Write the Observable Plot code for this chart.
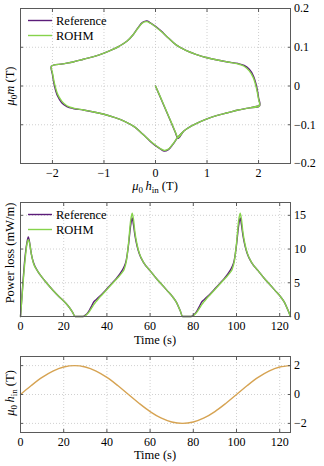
<!DOCTYPE html>
<html><head><meta charset="utf-8">
<script src="https://cdn.jsdelivr.net/npm/d3@7"></script>
<script src="https://cdn.jsdelivr.net/npm/@observablehq/plot@0.6"></script>
<style>
body{margin:0;background:#fff;}
#chart{width:324px;}
#chart svg{display:block;}
</style></head><body><div id="chart"></div>
<script>
// ---------- Panel 1: hysteresis loop (mu0 h_in, mu0 m) ----------
const initH = [0, 0.1, 0.2, 0.3, 0.38, 0.44];
const refInitM = [0, -0.031, -0.062, -0.093, -0.118, -0.135];
const rohmInitM = [0, -0.030, -0.061, -0.092, -0.117, -0.133];
const lowerH = [-2.02,-2.0,-1.96,-1.9,-1.82,-1.72,-1.6,-1.4,-1.2,-1.0,-0.8,-0.6,-0.4,-0.25,-0.1,0.0,0.1,0.17,0.25,0.33,0.43,0.55,0.7,0.85,1.0,1.2,1.4,1.6,1.8,2.02];
const refLowerM = [0.051,0.03,0.0,-0.026,-0.043,-0.053,-0.058,-0.062,-0.067,-0.073,-0.081,-0.091,-0.106,-0.124,-0.143,-0.154,-0.163,-0.168,-0.164,-0.152,-0.133,-0.116,-0.103,-0.093,-0.085,-0.076,-0.069,-0.062,-0.057,-0.051];
const rohmLowerM = [0.051,0.034,0.006,-0.021,-0.039,-0.051,-0.057,-0.062,-0.067,-0.073,-0.081,-0.091,-0.106,-0.124,-0.142,-0.153,-0.162,-0.166,-0.163,-0.151,-0.133,-0.116,-0.103,-0.093,-0.085,-0.076,-0.069,-0.062,-0.057,-0.051];
const upperH = [2.02,2.0,1.96,1.9,1.82,1.72,1.6,1.4,1.2,1.0,0.8,0.6,0.4,0.25,0.1,0.0,-0.1,-0.17,-0.25,-0.33,-0.43,-0.55,-0.7,-0.85,-1.0,-1.2,-1.4,-1.6,-1.8,-2.02];
const refUpperM = [-0.051,-0.03,0.0,0.026,0.043,0.053,0.058,0.062,0.067,0.073,0.081,0.091,0.106,0.124,0.143,0.154,0.163,0.168,0.164,0.152,0.133,0.116,0.103,0.093,0.085,0.076,0.069,0.062,0.057,0.051];
const rohmUpperM = [-0.051,-0.034,-0.006,0.021,0.039,0.051,0.057,0.062,0.067,0.073,0.081,0.091,0.106,0.124,0.142,0.153,0.162,0.166,0.163,0.151,0.133,0.116,0.103,0.093,0.085,0.076,0.069,0.062,0.057,0.051];
const loopXTicks = [-2, -1, 0, 1, 2];
const loopYTicks = [-0.2, -0.1, 0, 0.1, 0.2];

// ---------- Panel 2: power loss ----------
const tPower = [0,1,2,3,3.6,4.2,5,6,8,10,12,15,18,20,22,24,25.3,29,30,31,32,33,34,35,36,38,40,42,44,46,47,48,49,50,51,51.7,52.3,53,54,55,57,60,63,65,68,70,72,74,75,79,80,81,82,83,84,85,86,88,90,92,94,96,97,98,99,100,101,101.7,102.3,103,104,105,107,110,113,115,118,120,122,124,125];
const pRef = [0,4.5,8.5,11.0,11.8,11.0,9.3,8.0,6.7,5.8,5.0,3.9,2.9,2.3,1.6,0.7,0,0,0.2,0.5,1.0,1.6,2.2,2.5,2.8,3.4,4.1,4.8,5.5,6.3,6.8,7.4,8.4,10.6,13.5,14.6,13.6,12.0,10.4,9.3,8.0,6.8,5.6,4.9,3.8,3.1,2.2,0.8,0,0,0.2,0.5,1.0,1.6,2.2,2.5,2.8,3.4,4.1,4.8,5.5,6.3,6.8,7.4,8.4,10.6,13.5,14.6,13.6,12.0,10.4,9.3,8.0,6.8,5.6,4.9,3.8,3.1,2.2,0.8,0];
const pRohm = [0,4.2,8.0,10.8,11.4,10.9,9.3,7.9,6.7,5.8,5.0,3.9,2.9,2.3,1.6,0.7,0,0,0.1,0.4,0.8,1.3,1.8,2.2,2.6,3.3,4.0,4.7,5.4,6.1,6.5,7.0,8.2,10.8,14.2,15.3,14.4,12.4,10.6,9.4,8.0,6.8,5.6,4.9,3.8,3.1,2.2,0.8,0,0,0.1,0.4,0.8,1.3,1.8,2.2,2.6,3.3,4.0,4.7,5.4,6.1,6.5,7.0,8.2,10.8,14.2,15.3,14.4,12.4,10.6,9.4,8.0,6.8,5.6,4.9,3.8,3.1,2.2,0.8,0];
const timeTicks = [0, 20, 40, 60, 80, 100, 120];
const powerTicks = [0, 5, 10, 15];

// ---------- Panel 3: input field ----------
const tInput = [0,5,10,15,20,25,30,35,40,45,50,55,60,65,70,75,80,85,90,95,100,105,110,115,120,125];
const hInput = [0,0.62,1.18,1.62,1.90,2.0,1.90,1.62,1.18,0.62,0,-0.62,-1.18,-1.62,-1.90,-2.0,-1.90,-1.62,-1.18,-0.62,0,0.62,1.18,1.62,1.90,2.0];
const inputTicks = [-2, 0, 2];

// ---------- style ----------
const FONT = "'Liberation Serif', 'Times New Roman', serif";
const FRAME = "#5a5a5a";
const GRID = "#c4c4c4";
const C_REF = "#5b1c79";
const C_ROHM = "#86d34b";
const C_IN = "#d6a352";
const LW = 1.4;
const LABEL_SIZE = 12.5;

// build tables from arrays
const joinIdx = lowerH.indexOf(0.55);
function loopPath(initM, lowerM, upperM) {
  const pts = [];
  initH.forEach((h, i) => pts.push({h, m: initM[i]}));
  for (let i = joinIdx; i < lowerH.length; i++) pts.push({h: lowerH[i], m: lowerM[i]});
  for (let i = 1; i < upperH.length; i++) pts.push({h: upperH[i], m: upperM[i]});
  for (let i = 1; i < lowerH.length; i++) pts.push({h: lowerH[i], m: lowerM[i]});
  return pts;
}
const refLoop = loopPath(refInitM, refLowerM, refUpperM);
const rohmLoop = loopPath(rohmInitM, rohmLowerM, rohmUpperM);
const refPower = tPower.map((t, i) => ({t, p: pRef[i]}));
const rohmPower = tPower.map((t, i) => ({t, p: pRohm[i]}));
const input = tInput.map((t, i) => ({t, h: hInput[i]}));

const minus = s => s.replace("-", "\u2212");
const fmtLoop = d => d === 0 ? "0" : minus(d3.format(".1f")(d));
const fmtInt = d => minus(String(d));

function panel({height, marginTop, marginBottom, xDomain, yDomain, xTicks, yTicks, yFormat, marks}) {
  return Plot.plot({
    width: 324, height, marginLeft: 20, marginRight: 34, marginTop, marginBottom,
    style: {fontFamily: FONT, fontSize: "12px", color: "#000", background: "#fff", overflow: "visible"},
    x: {domain: xDomain},
    y: {domain: yDomain},
    marks: [
      Plot.ruleX(xTicks, {stroke: GRID, strokeDasharray: "1,2", strokeWidth: 0.8}),
      Plot.ruleY(yTicks, {stroke: GRID, strokeDasharray: "1,2", strokeWidth: 0.8}),
      ...marks,
      Plot.frame({stroke: FRAME, strokeWidth: 1}),
      Plot.axisX({ticks: xTicks, tickSize: -3, tickPadding: 8, tickFormat: fmtInt, label: null, stroke: FRAME, fill: "#000"}),
      Plot.axisX({anchor: "top", ticks: xTicks, tickSize: -3, tickFormat: () => "", label: null, stroke: FRAME}),
      Plot.axisY({anchor: "right", ticks: yTicks, tickSize: -3, tickPadding: 6.5, tickFormat: yFormat, label: null, stroke: FRAME, fill: "#000"}),
      Plot.axisY({anchor: "left", ticks: yTicks, tickSize: -3, tickFormat: () => "", label: null, stroke: FRAME})
    ]
  });
}

function addLabel(svgEl, x, y, parts, rotate) {
  const t = d3.select(svgEl).append("text")
    .attr("transform", `translate(${x},${y})` + (rotate ? " rotate(-90)" : ""))
    .attr("text-anchor", "middle").attr("font-family", FONT).attr("font-size", LABEL_SIZE).attr("fill", "#000");
  let shift = 0;
  for (const p of parts) {
    const ts = t.append("tspan").text(p.t);
    if (p.i) ts.attr("font-style", "italic");
    const target = p.sub ? 3 : 0;
    if (target !== shift) { ts.attr("dy", target - shift); shift = target; }
    if (p.sub) ts.attr("font-size", 9);
  }
}
function addLegend(svgEl, entries) {
  const g = d3.select(svgEl).append("g");
  entries.forEach((e, i) => {
    const y = 20.5 + i * 15;
    g.append("line").attr("x1", 28).attr("x2", 52).attr("y1", y).attr("y2", y)
      .attr("stroke", e.color).attr("stroke-width", LW);
    g.append("text").attr("x", 56).attr("y", y + 4.2).attr("text-anchor", "start")
      .attr("font-family", FONT).attr("font-size", LABEL_SIZE)
      .attr("fill", "#000").text(e.label);
  });
}

const hinParts = [{t: "\u03BC", i: 1}, {t: "0", sub: 1}, {t: "\u2009h", i: 1}, {t: "in", sub: 1}, {t: " (T)"}];
const legendEntries = [{label: "Reference", color: C_REF}, {label: "ROHM", color: C_ROHM}];

const p1 = panel({
  height: 194, marginTop: 8, marginBottom: 31,
  xDomain: [-2.62, 2.62], yDomain: [-0.2, 0.2], xTicks: loopXTicks, yTicks: loopYTicks, yFormat: fmtLoop,
  marks: [
    Plot.line(refLoop, {x: "h", y: "m", stroke: C_REF, strokeWidth: LW, curve: "catmull-rom"}),
    Plot.line(rohmLoop, {x: "h", y: "m", stroke: C_ROHM, strokeWidth: LW, curve: "catmull-rom"})
  ]
});
addLegend(p1, legendEntries);
addLabel(p1, 14, 86, [{t: "\u03BC", i: 1}, {t: "0", sub: 1}, {t: "m", i: 1}, {t: " (T)"}], true);
addLabel(p1, 155, 190, hinParts, false);

const p2 = panel({
  height: 154, marginTop: 8, marginBottom: 32,
  xDomain: [0, 125], yDomain: [0, 16.9], xTicks: timeTicks, yTicks: powerTicks, yFormat: fmtInt,
  marks: [
    Plot.line(refPower, {x: "t", y: "p", stroke: C_REF, strokeWidth: LW, curve: "monotone-x"}),
    Plot.line(rohmPower, {x: "t", y: "p", stroke: C_ROHM, strokeWidth: LW, curve: "monotone-x"})
  ]
});
addLegend(p2, legendEntries);
addLabel(p2, 14, 59, [{t: "Power loss (mW/m)"}], true);
addLabel(p2, 155, 150, [{t: "Time (s)"}], false);

const p3 = panel({
  height: 118, marginTop: 8, marginBottom: 34,
  xDomain: [0, 125], yDomain: [-2.63, 2.63], xTicks: timeTicks, yTicks: inputTicks, yFormat: fmtInt,
  marks: [
    Plot.line(input, {x: "t", y: "h", stroke: C_IN, strokeWidth: LW, curve: "catmull-rom"})
  ]
});
addLabel(p3, 14, 45, hinParts, true);
addLabel(p3, 155, 111, [{t: "Time (s)"}], false);

const chart = document.getElementById("chart");
chart.append(p1, p2, p3);
</script>
</body></html>
